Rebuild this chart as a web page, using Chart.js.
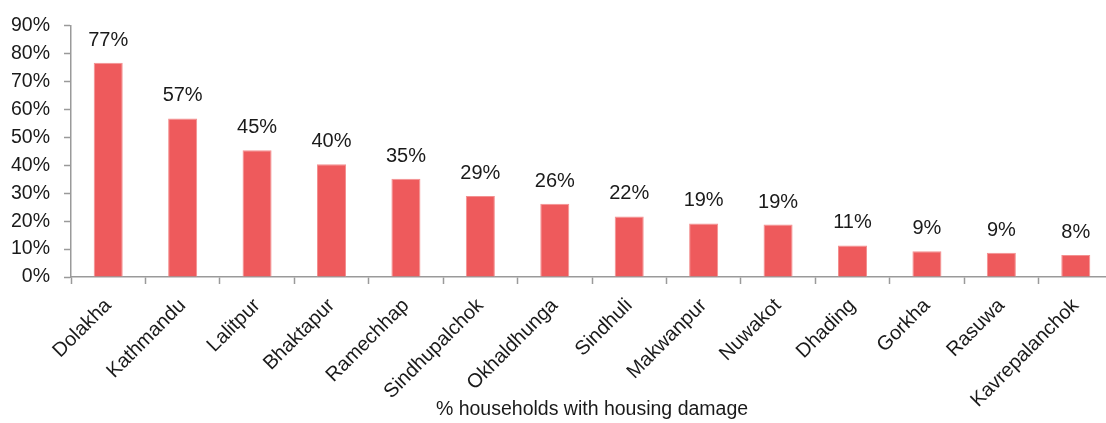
<!DOCTYPE html>
<html>
<head>
<meta charset="utf-8">
<script src="https://cdn.jsdelivr.net/npm/chart.js@4"></script>
<style>
  html, body { margin: 0; padding: 0; background: #fff; overflow: hidden; }
  #wrap { width: 1120px; height: 423px; position: relative; }
</style>
</head>
<body>
<div id="wrap"><canvas id="chart"></canvas></div>
<script>
// Districts and share of households reporting housing damage (%)
const districts = ['Dolakha', 'Kathmandu', 'Lalitpur', 'Bhaktapur', 'Ramechhap', 'Sindhupalchok',
  'Okhaldhunga', 'Sindhuli', 'Makwanpur', 'Nuwakot', 'Dhading', 'Gorkha', 'Rasuwa', 'Kavrepalanchok'];
const damagePct = [76.7, 56.8, 45.4, 40.4, 35.2, 29.0, 26.2, 21.7, 19.2, 18.8, 11.3, 9.2, 8.7, 7.9];
const yTicks = [0, 10, 20, 30, 40, 50, 60, 70, 80, 90];
const axisTitle = '% households with housing damage';

const FONT = "'Liberation Sans', Arial, sans-serif";
const AXIS_GREY = '#9a9a9a';
const INK = '#1a1a1a';

// Percentage label above each bar
const barValueLabels = {
  id: 'barValueLabels',
  afterDatasetsDraw(chart) {
    const ctx = chart.ctx;
    const meta = chart.getDatasetMeta(0);
    ctx.save();
    ctx.font = '20px ' + FONT;
    ctx.fillStyle = INK;
    ctx.textAlign = 'center';
    ctx.textBaseline = 'alphabetic';
    meta.data.forEach((bar, i) => {
      const v = chart.data.datasets[0].data[i];
      ctx.fillText(Math.round(v) + '%', bar.x, bar.y - 17);
    });
    ctx.restore();
  }
};

new Chart(document.getElementById('chart'), {
  type: 'bar',
  data: {
    labels: districts,
    datasets: [{
      data: damagePct,
      backgroundColor: '#EE5A5C',
      borderColor: '#F39090',
      borderWidth: 1,
      categoryPercentage: 1,
      barPercentage: 0.39
    }]
  },
  options: {
    responsive: true,
    maintainAspectRatio: false,
    animation: false,
    devicePixelRatio: 1,
    layout: { padding: { top: 25, right: 7, left: 0, bottom: 0 } },
    plugins: {
      legend: { display: false },
      tooltip: { enabled: false }
    },
    scales: {
      x: {
        grid: {
          display: true,
          drawOnChartArea: false,
          drawTicks: true,
          tickLength: 7,
          tickWidth: 1.5,
          color: AXIS_GREY,
          offset: true
        },
        border: { display: true, color: AXIS_GREY, width: 1.5 },
        ticks: {
          font: { family: FONT, size: 20 },
          color: INK,
          minRotation: 45,
          maxRotation: 45,
          padding: 10,
          autoSkip: false
        },
        title: {
          display: true,
          text: axisTitle,
          font: { family: FONT, size: 19.5 },
          color: INK,
          padding: { top: 0, bottom: 2 }
        },
        afterFit(scale) { scale.height = 146; }
      },
      y: {
        min: 0,
        max: 90,
        afterBuildTicks(scale) { scale.ticks = yTicks.map(v => ({ value: v })); },
        grid: {
          display: true,
          drawOnChartArea: false,
          drawTicks: true,
          tickLength: 7,
          tickWidth: 1.5,
          color: AXIS_GREY
        },
        border: { display: true, color: AXIS_GREY, width: 1.5 },
        ticks: {
          font: { family: FONT, size: 19.5 },
          color: INK,
          padding: 14,
          callback: v => v + '%'
        },
        afterFit(scale) { scale.width = 71; }
      }
    }
  },
  plugins: [barValueLabels]
});
</script>
</body>
</html>
